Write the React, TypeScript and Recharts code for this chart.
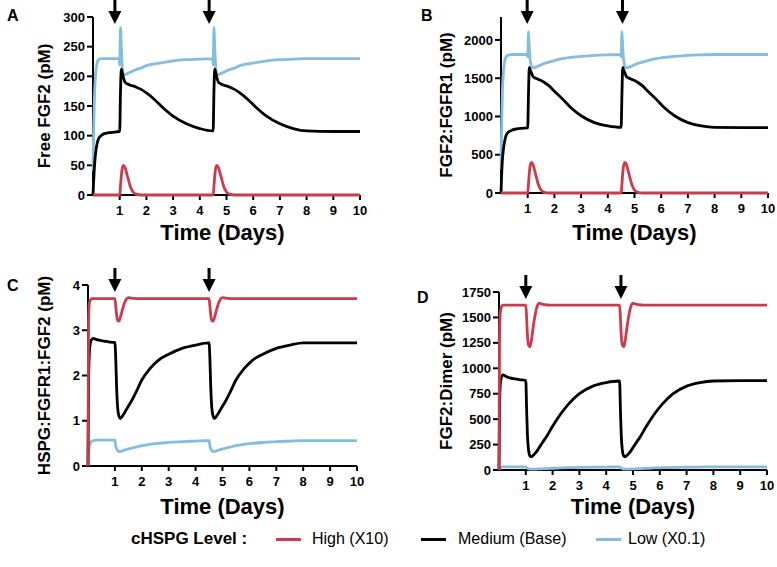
import React from 'react';
import { LineChart, Line, XAxis, YAxis, ReferenceDot } from 'recharts';

const FONT = '"Liberation Sans", Arial, Helvetica, sans-serif';
const RED = '#cc3a4b';
const BLACK = '#000000';
const BLUE = '#84bddf';

// time points (days)
const days = [
  0, 0.02, 0.05, 0.1, 0.15, 0.2, 0.3, 0.4, 0.6, 0.8, 0.98,
  1.0, 1.03, 1.06, 1.1, 1.15, 1.2, 1.3, 1.4, 1.5, 1.6, 1.8, 2.0, 2.3, 2.6, 3.0, 3.5, 4.0, 4.48,
  4.5, 4.53, 4.56, 4.6, 4.65, 4.7, 4.8, 4.9, 5.0, 5.1, 5.3, 5.5, 5.8, 6.1, 6.5, 7.0, 7.5, 8.0,
  9.0, 10.0,
];
const xTicks = [1, 2, 3, 4, 5, 6, 7, 8, 9, 10];

// Panel A: Free FGF2 (pM)
const freeHigh = [
  0, 0, 0, 0, 0, 0, 0, 0, 0, 0, 0,
  0, 15, 32, 46, 50, 46, 30, 14, 5, 1.5, 0, 0, 0, 0, 0, 0, 0, 0,
  0, 15, 32, 46, 50, 46, 30, 14, 5, 1.5, 0, 0, 0, 0, 0, 0, 0, 0,
  0, 0,
];
const freeMedium = [
  0, 20, 45, 72, 86, 94, 100, 103, 105, 106, 107,
  107, 175, 212, 205, 196, 190, 187, 185, 184, 182, 178, 172, 161, 148, 133, 120, 112, 108,
  108, 175, 212, 205, 196, 190, 187, 185, 184, 182, 178, 172, 161, 148, 133, 120, 112, 108,
  107, 107,
];
const freeLow = [
  40, 100, 160, 205, 222, 228, 230, 230, 230, 230, 230,
  219, 282, 248, 214, 204, 203, 205, 207, 209, 211, 214, 218, 221, 223, 226, 228, 229, 230,
  219, 282, 248, 214, 204, 203, 205, 207, 209, 211, 214, 218, 221, 223, 226, 228, 229, 230,
  230, 230,
];
const freeTicks = [0, 50, 100, 150, 200, 250, 300];

// Panel B: FGF2:FGFR1 (pM)
const recHigh = [
  0, 0, 0, 0, 0, 0, 0, 0, 0, 0, 0,
  0, 120, 260, 370, 400, 370, 240, 110, 40, 12, 0, 0, 0, 0, 0, 0, 0, 0,
  0, 120, 260, 370, 400, 370, 240, 110, 40, 12, 0, 0, 0, 0, 0, 0, 0, 0,
  0, 0,
];
const recMedium = [
  0, 200, 420, 600, 700, 760, 800, 820, 838, 845, 850,
  850, 1300, 1640, 1600, 1560, 1520, 1500, 1485, 1470, 1450, 1400, 1330, 1230, 1120, 1010, 920, 877, 858,
  858, 1300, 1640, 1600, 1560, 1520, 1500, 1485, 1470, 1450, 1400, 1330, 1230, 1120, 1010, 920, 877, 858,
  855, 855,
];
const recLow = [
  300, 800, 1300, 1620, 1740, 1785, 1805, 1810, 1810, 1810, 1810,
  1780, 2110, 1900, 1720, 1650, 1635, 1645, 1660, 1675, 1690, 1710, 1730, 1755, 1772, 1785, 1798, 1805, 1810,
  1780, 2110, 1900, 1720, 1650, 1635, 1645, 1660, 1675, 1690, 1710, 1730, 1755, 1772, 1785, 1798, 1805, 1810,
  1810, 1810,
];
const recTicks = [0, 500, 1000, 1500, 2000];

// Panel C: HSPG:FGFR1:FGF2 (pM)
const triHigh = [
  0, 3.2, 3.6, 3.68, 3.7, 3.7, 3.7, 3.7, 3.7, 3.7, 3.7,
  3.7, 3.55, 3.35, 3.22, 3.2, 3.28, 3.5, 3.66, 3.72, 3.71, 3.7, 3.7, 3.7, 3.7, 3.7, 3.7, 3.7, 3.7,
  3.7, 3.55, 3.35, 3.22, 3.2, 3.28, 3.5, 3.66, 3.72, 3.71, 3.7, 3.7, 3.7, 3.7, 3.7, 3.7, 3.7, 3.7,
  3.7, 3.7,
];
const triMedium = [
  0, 1.8, 2.5, 2.75, 2.8, 2.82, 2.8, 2.78, 2.76, 2.74, 2.73,
  2.73, 2.4, 1.8, 1.3, 1.1, 1.05, 1.12, 1.22, 1.32, 1.42, 1.65, 1.9, 2.15, 2.33, 2.47, 2.6, 2.67, 2.72,
  2.72, 2.4, 1.8, 1.3, 1.1, 1.05, 1.12, 1.22, 1.32, 1.42, 1.65, 1.9, 2.15, 2.33, 2.47, 2.6, 2.67, 2.72,
  2.72, 2.72,
];
const triLow = [
  0, 0.3, 0.45, 0.52, 0.55, 0.56, 0.57, 0.57, 0.57, 0.57, 0.57,
  0.57, 0.45, 0.38, 0.34, 0.32, 0.32, 0.34, 0.36, 0.38, 0.39, 0.42, 0.45, 0.48, 0.5, 0.52, 0.54, 0.55, 0.56,
  0.56, 0.45, 0.38, 0.34, 0.32, 0.32, 0.34, 0.36, 0.38, 0.39, 0.42, 0.45, 0.48, 0.5, 0.52, 0.54, 0.55, 0.56,
  0.56, 0.56,
];
const triTicks = [0, 1, 2, 3, 4];

// Panel D: FGF2:Dimer (pM)
const dimHigh = [
  0, 1300, 1550, 1610, 1620, 1620, 1620, 1620, 1620, 1620, 1620,
  1620, 1500, 1330, 1230, 1210, 1260, 1450, 1590, 1640, 1630, 1622, 1620, 1620, 1620, 1620, 1620, 1620, 1620,
  1620, 1500, 1330, 1230, 1210, 1260, 1450, 1590, 1640, 1630, 1622, 1620, 1620, 1620, 1620, 1620, 1620, 1620,
  1620, 1620,
];
const dimMedium = [
  0, 600, 850, 920, 935, 930, 915, 905, 895, 887, 882,
  882, 600, 350, 200, 140, 130, 150, 180, 220, 260, 340, 430, 550, 650, 750, 825, 860, 875,
  875, 600, 350, 200, 140, 130, 150, 180, 220, 260, 340, 430, 550, 650, 750, 825, 860, 875,
  878, 878,
];
const dimLow = [
  0, 20, 28, 30, 30, 30, 30, 30, 30, 30, 30,
  30, 24, 18, 13, 9, 8, 9, 10, 11, 12, 14, 17, 20, 23, 25, 28, 29, 30,
  30, 24, 18, 13, 9, 8, 9, 10, 11, 12, 14, 17, 20, 23, 25, 28, 29, 30,
  30, 30,
];
const dimTicks = [0, 250, 500, 750, 1000, 1250, 1500, 1750];

const legendItems = [
  { label: 'High (X10)', color: RED },
  { label: 'Medium (Base)', color: BLACK },
  { label: 'Low (X0.1)', color: BLUE },
];

const Arrow = ({ cx, cy }: { cx: number; cy: number }) => (
  <g>
    <rect x={cx - 1.5} y={cy - 17} width={3} height={12} fill="#000" />
    <path d={`M${cx - 6.5},${cy - 6} L${cx + 6.5},${cy - 6} L${cx},${cy + 7} Z`} fill="#000" />
  </g>
);

type PanelProps = {
  left: number; top: number; width: number; height: number;
  margin: { top: number; right: number; bottom: number; left: number };
  yWidth: number; xHeight: number;
  high: number[]; medium: number[]; low: number[];
  yDomain: [number, number]; yTicks: number[];
  yLabel: string; yLabelX: number;
  xLabelDy: number; xLabelDx: number;
  letter: string; letterX: number; letterY: number;
  arrows: number[];
};

function Panel(p: PanelProps) {
  const data = days.map((d, i) => ({ day: d, high: p.high[i], medium: p.medium[i], low: p.low[i] }));
  const yLabelFn = (lp: any) => {
    const vb = lp.viewBox || {};
    const cy = (vb.y ?? 0) + (vb.height ?? 0) / 2;
    const x = (vb.x ?? 0) + p.yLabelX;
    return (
      <text x={x} y={cy} transform={`rotate(-90 ${x} ${cy})`} textAnchor="middle"
        fontSize={17} fontWeight={700} fill="#000" fontFamily={FONT}>{p.yLabel}</text>
    );
  };
  const xLabelFn = (lp: any) => {
    const vb = lp.viewBox || {};
    const x = (vb.x ?? 0) + (vb.width ?? 0) / 2 + p.xLabelDx;
    const y = (vb.y ?? 0) + p.xLabelDy;
    return (
      <text x={x} y={y} textAnchor="middle" fontSize={22} fontWeight={700} fill="#000" fontFamily={FONT}>
        Time (Days)
      </text>
    );
  };
  const lineProps: any = { type: 'monotone', strokeWidth: 2.8, dot: false, isAnimationActive: false, zIndex: 600 };
  return (
    <div style={{ position: 'absolute', left: p.left, top: p.top, width: p.width, height: p.height }}>
      <LineChart width={p.width} height={p.height} data={data} margin={p.margin}>
        <XAxis dataKey="day" type="number" domain={[0, 10]} ticks={xTicks} interval={0}
          tick={{ fill: '#000', fontSize: 13, fontWeight: 700, fontFamily: FONT }}
          tickSize={5} tickMargin={6} height={p.xHeight}
          axisLine={{ stroke: '#000', strokeWidth: 2 }} tickLine={{ stroke: '#000', strokeWidth: 2 }}
          label={xLabelFn} />
        <YAxis type="number" domain={p.yDomain} ticks={p.yTicks} interval={0} width={p.yWidth}
          tick={{ fill: '#000', fontSize: 13, fontWeight: 700, fontFamily: FONT }}
          tickSize={6} tickMargin={2}
          axisLine={{ stroke: '#000', strokeWidth: 2 }} tickLine={{ stroke: '#000', strokeWidth: 2 }}
          label={yLabelFn} />
        <Line dataKey="low" stroke={BLUE} {...lineProps} />
        <Line dataKey="medium" stroke={BLACK} {...lineProps} />
        <Line dataKey="high" stroke={RED} {...lineProps} />
        {p.arrows.map((a) => (
          <ReferenceDot key={a} x={a} y={p.yDomain[1]} r={1} ifOverflow="visible"
            shape={(sp: any) => <Arrow cx={sp.cx} cy={sp.cy} />} />
        ))}
      </LineChart>
      <div style={{ position: 'absolute', left: p.letterX, top: p.letterY, fontSize: 16, lineHeight: '16px', fontWeight: 700, color: '#000' }}>
        {p.letter}
      </div>
    </div>
  );
}

export default function App() {
  return (
    <div style={{ position: 'absolute', left: 0, top: 0, width: 777, height: 567, background: '#fff', fontFamily: FONT, overflow: 'hidden' }}>
      <Panel left={0} top={0} width={390} height={250}
        margin={{ top: 17, right: 30, bottom: 0, left: 0 }} yWidth={93} xHeight={55}
        high={freeHigh} medium={freeMedium} low={freeLow}
        yDomain={[0, 300]} yTicks={freeTicks} yLabel="Free FGF2 (pM)" yLabelX={50}
        xLabelDy={45} xLabelDx={-4}
        letter="A" letterX={7} letterY={8} arrows={[0.82, 4.35]} />
      <Panel left={390} top={0} width={387} height={250}
        margin={{ top: 17, right: 9, bottom: 0, left: 0 }} yWidth={111} xHeight={57}
        high={recHigh} medium={recMedium} low={recLow}
        yDomain={[0, 2300]} yTicks={recTicks} yLabel="FGF2:FGFR1 (pM)" yLabelX={62}
        xLabelDy={47} xLabelDx={0}
        letter="B" letterX={31} letterY={8} arrows={[0.98, 4.55]} />
      <Panel left={0} top={250} width={390} height={280}
        margin={{ top: 35, right: 33, bottom: 0, left: 0 }} yWidth={88} xHeight={64}
        high={triHigh} medium={triMedium} low={triLow}
        yDomain={[0, 4]} yTicks={triTicks} yLabel="HSPG:FGFR1:FGF2 (pM)" yLabelX={50}
        xLabelDy={48} xLabelDx={0}
        letter="C" letterX={7} letterY={28} arrows={[1.0, 4.5]} />
      <Panel left={390} top={250} width={387} height={280}
        margin={{ top: 42, right: 10, bottom: 0, left: 0 }} yWidth={109} xHeight={60}
        high={dimHigh} medium={dimMedium} low={dimLow}
        yDomain={[0, 1750]} yTicks={dimTicks} yLabel="FGF2:Dimer (pM)" yLabelX={62}
        xLabelDy={44} xLabelDx={0}
        letter="D" letterX={27} letterY={40} arrows={[1.0, 4.55]} />
      <div style={{ position: 'absolute', left: 0, top: 529, width: 777, height: 20, lineHeight: '20px' }}>
        <span style={{ position: 'absolute', left: 131, fontSize: 17, fontWeight: 700 }}>cHSPG Level :</span>
        {legendItems.map((it, i) => {
          const lx = [276, 421, 596][i];
          const tx = [312, 458, 628][i];
          return (
            <React.Fragment key={it.label}>
              <span style={{ position: 'absolute', left: lx, top: 9, width: 25, height: 3, background: it.color }} />
              <span style={{ position: 'absolute', left: tx, fontSize: 16 }}>{it.label}</span>
            </React.Fragment>
          );
        })}
      </div>
    </div>
  );
}
